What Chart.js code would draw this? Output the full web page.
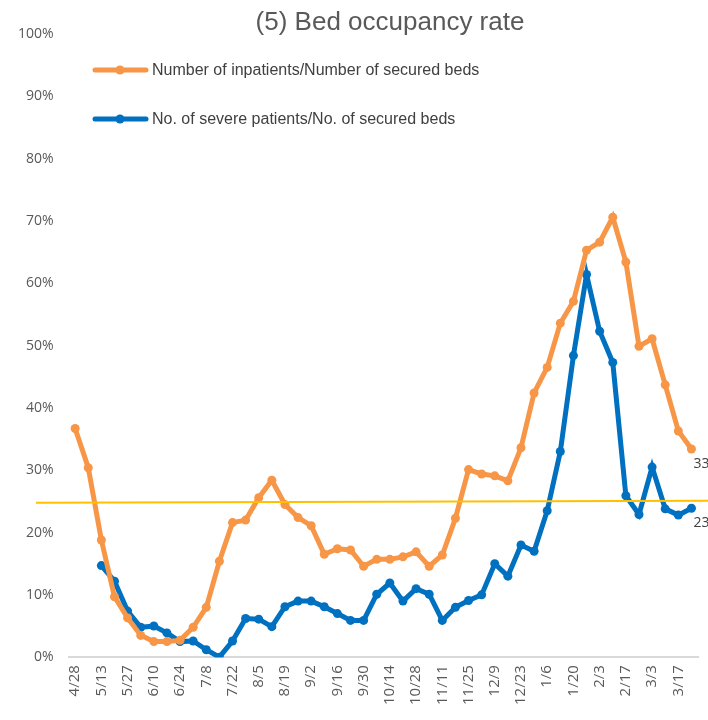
<!DOCTYPE html>
<html>
<head>
<meta charset="utf-8">
<script src="https://cdn.jsdelivr.net/npm/chart.js@4"></script>
<style>
  html, body { margin: 0; padding: 0; background: #fff; }
  #wrap { width: 708px; height: 720px; }
</style>
</head>
<body>
<div id="wrap"><canvas id="myChart"></canvas></div>
<script>
// weekly dates (only every 2nd one is shown on the axis)
const weeks = [
  "4/28", "5/6", "5/13", "5/20", "5/27", "6/3", "6/10", "6/17", "6/24", "7/1",
  "7/8", "7/15", "7/22", "7/29", "8/5", "8/12", "8/19", "8/26", "9/2", "9/9",
  "9/16", "9/23", "9/30", "10/7", "10/14", "10/21", "10/28", "11/4", "11/11", "11/18",
  "11/25", "12/2", "12/9", "12/16", "12/23", "12/30", "1/6", "1/13", "1/20", "1/27",
  "2/3", "2/10", "2/17", "2/24", "3/3", "3/10", "3/17", "3/24"
];

// Number of inpatients / Number of secured beds (%)
const inpatients = [
  36.7, 30.4, 18.8, 9.7, 6.3, 3.5, 2.5, 2.5, 2.7, 4.8,
  8.0, 15.4, 21.6, 22.0, 25.6, 28.4, 24.5, 22.4, 21.1, 16.5,
  17.4, 17.2, 14.6, 15.7, 15.7, 16.1, 16.9, 14.6, 16.4, 22.3,
  30.1, 29.4, 29.1, 28.3, 33.6, 42.4, 46.5, 53.6, 57.1, 65.3,
  66.6, 70.6, 63.4, 49.9, 51.1, 43.7, 36.3, 33.4
];

// No. of severe patients / No. of secured beds (%)
const severe = [
  null, null, 14.7, 12.2, 7.4, 4.8, 5.0, 3.9, 2.5, 2.6,
  1.2, 0.0, 2.6, 6.2, 6.1, 4.9, 8.1, 9.0, 9.0, 8.1,
  7.0, 5.9, 5.9, 10.1, 11.9, 9.0, 11.0, 10.1, 5.9, 8.0,
  9.1, 10.0, 15.0, 13.0, 18.0, 17.0, 23.5, 33.0, 48.4, 61.4,
  52.3, 47.3, 25.9, 22.9, 30.5, 23.8, 22.8, 23.9
];

const seriesNames = [
  "Number of inpatients/Number of secured beds",
  "No. of severe patients/No. of secured beds"
];

const yTicks = [0, 10, 20, 30, 40, 50, 60, 70, 80, 90, 100];

// yellow reference line (left end, right end), in %
const refLine = [24.8, 25.1];

const titleText = "(5) Bed occupancy rate";

const ORANGE = "#F79646";
const BLUE = "#0070C0";

// title, legend, reference line and end labels
const extras = {
  id: "extras",
  afterDatasetsDraw(chart) {
    const ctx = chart.ctx;
    const y = chart.scales.y;
    ctx.save();

    // reference line
    ctx.strokeStyle = "#FFC000";
    ctx.lineWidth = 2;
    ctx.beginPath();
    ctx.moveTo(36, y.getPixelForValue(refLine[0]));
    ctx.lineTo(chart.width, y.getPixelForValue(refLine[1]));
    ctx.stroke();

    // labels next to the last points
    ctx.font = "14px 'Open Sans'";
    ctx.fillStyle = "#404040";
    ctx.textAlign = "left";
    ctx.textBaseline = "top";
    chart.data.datasets.forEach((ds, i) => {
      const meta = chart.getDatasetMeta(i);
      const last = meta.data[meta.data.length - 1];
      const v = ds.data[ds.data.length - 1];
      ctx.fillText(v.toFixed(1) + "%", last.x + 2, last.y + 8);
    });

    // title
    ctx.font = "26px 'Liberation Sans', Arial";
    ctx.fillStyle = "#595959";
    ctx.textAlign = "center";
    ctx.textBaseline = "alphabetic";
    ctx.fillText(titleText, 390, 30);

    // legend
    ctx.font = "16px 'Liberation Sans', Arial";
    ctx.fillStyle = "#404040";
    ctx.textAlign = "left";
    ctx.textBaseline = "middle";
    chart.data.datasets.forEach((ds, i) => {
      const ly = 70 + i * 49;
      ctx.strokeStyle = ds.borderColor;
      ctx.lineWidth = 5;
      ctx.lineCap = "round";
      ctx.beginPath();
      ctx.moveTo(95, ly);
      ctx.lineTo(146, ly);
      ctx.stroke();
      ctx.fillStyle = ds.borderColor;
      ctx.beginPath();
      ctx.arc(120, ly, 4.5, 0, Math.PI * 2);
      ctx.fill();
      ctx.fillStyle = "#404040";
      ctx.fillText(ds.label, 152, ly + 1);
    });
    ctx.restore();
  }
};

const ctx = document.getElementById("myChart");
const myChart = new Chart(ctx, {
  type: "line",
  data: {
    labels: weeks,
    datasets: [
      {
        label: seriesNames[0],
        data: inpatients,
        borderColor: ORANGE,
        backgroundColor: ORANGE,
        borderWidth: 5,
        pointRadius: 4.5,
        pointBorderWidth: 0,
        tension: 0,
      },
      {
        label: seriesNames[1],
        data: severe,
        borderColor: BLUE,
        backgroundColor: BLUE,
        borderWidth: 5,
        pointRadius: 4.5,
        pointBorderWidth: 0,
        tension: 0,
      },
    ],
  },
  options: {
    responsive: true,
    maintainAspectRatio: false,
    animation: false,
    layout: { padding: { top: 34, left: 3, right: 10, bottom: 7 } },
    plugins: {
      legend: { display: false },
      title: { display: false },
      tooltip: { enabled: false },
    },
    scales: {
      x: {
        offset: true,
        grid: { display: false, drawTicks: false },
        border: { display: true, color: "#D9D9D9", width: 2 },
        // last tick label is blank, so no extra room is needed on the right
        afterFit: (axis) => {
          axis.paddingRight = 0;
        },
        ticks: {
          autoSkip: false,
          minRotation: 90,
          maxRotation: 90,
          padding: 8,
          color: "#595959",
          font: { family: "'Open Sans'", size: 15 },
          callback: (v, i) => (i % 2 === 0 ? weeks[i] : ""),
        },
      },
      y: {
        min: 0,
        max: 100,
        afterBuildTicks: (axis) => {
          axis.ticks = yTicks.map((v) => ({ value: v }));
        },
        grid: { display: false, drawTicks: false },
        border: { display: false },
        ticks: {
          padding: 15,
          color: "#595959",
          font: { family: "'Open Sans'", size: 14 },
          callback: (v) => v + "%",
        },
      },
    },
  },
  plugins: [extras],
});
</script>
</body>
</html>
